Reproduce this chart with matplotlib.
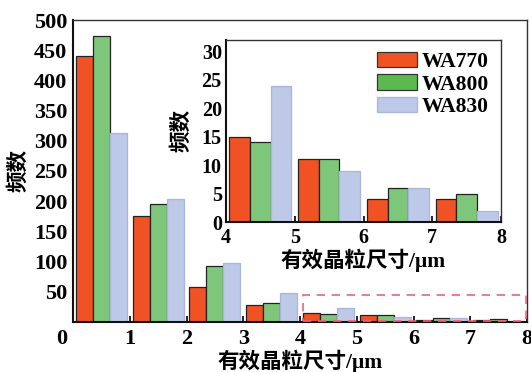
import matplotlib
matplotlib.use("Agg")
import matplotlib.pyplot as plt
from matplotlib.patches import Patch, Rectangle
import numpy as np

# Grain-size bins (μm, lower edge of each 1 μm bin)
bins = [0, 1, 2, 3, 4, 5, 6, 7]
wa770 = [441, 175, 58, 28, 15, 11, 4, 4]
wa800 = [474, 196, 93, 31, 14, 11, 6, 5]
wa830 = [313, 204, 97, 48, 24, 9, 6, 2]
series_names = ["WA770", "WA800", "WA830"]

main_yticks = [50, 100, 150, 200, 250, 300, 350, 400, 450, 500]
main_xticks = [1, 2, 3, 4, 5, 6, 7, 8]
inset_yticks = [0, 5, 10, 15, 20, 25, 30]
inset_xticks = [4, 5, 6, 7, 8]

RED = "#F05224"
GREEN = "#7EC67A"
GREEN_LEG = "#5BB94F"
BLUE = "#BDC9E7"
BLUE_EDGE = "#A8B6DE"

LATIN = "Liberation Serif"
MIXED = ["Liberation Serif", "Noto Sans CJK SC"]

fig = plt.figure(figsize=(5.31, 3.72), dpi=100)


def draw_bars(ax, idx):
    x = np.array([bins[i] for i in idx], dtype=float)
    w = 0.3
    ax.bar(x + 0.2, [wa770[i] for i in idx], width=w, color=RED,
           edgecolor="#222222", linewidth=0.9, zorder=2)
    ax.bar(x + 0.5, [wa800[i] for i in idx], width=w, color=GREEN,
           edgecolor="#222222", linewidth=0.9, zorder=2)
    ax.bar(x + 0.8, [wa830[i] for i in idx], width=w, color=BLUE,
           edgecolor=BLUE_EDGE, linewidth=0.9, zorder=2)


def style_spines(ax):
    for s in ("left", "bottom"):
        ax.spines[s].set_linewidth(1.5)
        ax.spines[s].set_color("#111111")
    for s in ("top", "right"):
        ax.spines[s].set_linewidth(1.0)
        ax.spines[s].set_color("#333333")


def style_ticklabels(ax, size):
    for lab in ax.get_xticklabels() + ax.get_yticklabels():
        lab.set_fontfamily(LATIN)
        lab.set_fontweight("bold")
        lab.set_fontsize(size)


# ---- main histogram ----
ax = fig.add_axes([73 / 531, 1 - 322 / 372, 454 / 531, 302 / 372])
draw_bars(ax, range(len(bins)))
ax.set_xlim(0, 8)
ax.set_ylim(0, 500)
ax.set_xticks(main_xticks)
ax.set_yticks(main_yticks)
ax.tick_params(axis="x", direction="in", length=4, width=1.2, pad=5)
ax.tick_params(axis="y", direction="in", length=0, pad=4)
style_ticklabels(ax, 16)
style_spines(ax)
ax.annotate("0", xy=(0, 0), xycoords="data", xytext=(-8, -12),
            textcoords="offset points", ha="center", va="center",
            fontfamily=LATIN, fontweight="bold", fontsize=16)
ax.set_xlabel("有效晶粒尺寸/μm", family=MIXED, fontweight="bold",
              fontsize=15.5)
ax.xaxis.set_label_coords(0.5, -39 / 302, transform=ax.transAxes)
ax.xaxis.label.set_va("center")
ax.set_ylabel("频数", family=MIXED, fontweight="bold", fontsize=15.5)
ax.yaxis.set_label_coords(-54 / 454, 0.5, transform=ax.transAxes)
ax.yaxis.label.set_va("center")

# dashed frame marking the zoomed region
ax.add_patch(Rectangle((4.05, 1), 3.93, 43, fill=False, edgecolor="#F2607C",
                       linestyle=(0, (5, 4)), linewidth=1.2, zorder=3,
                       clip_on=False))

# ---- inset: 4–8 μm ----
ins = fig.add_axes([226 / 531, 1 - 222 / 372, 275 / 531, 182 / 372])
draw_bars(ins, [4, 5, 6, 7])
ins.set_xlim(4, 8)
ins.set_ylim(0, 32)
ins.set_xticks(inset_xticks)
ins.set_yticks(inset_yticks)
ins.tick_params(axis="x", direction="in", length=4, width=1.2, pad=4)
ins.tick_params(axis="y", direction="in", length=0, pad=3)
style_ticklabels(ins, 14.5)
style_spines(ins)
ins.set_xlabel("有效晶粒尺寸/μm", family=MIXED, fontweight="bold",
               fontsize=15.5)
ins.xaxis.set_label_coords(0.5, -38 / 182, transform=ins.transAxes)
ins.xaxis.label.set_va("center")
ins.set_ylabel("频数", family=MIXED, fontweight="bold", fontsize=15.5)
ins.yaxis.set_label_coords(-44 / 275, 92 / 182, transform=ins.transAxes)
ins.yaxis.label.set_va("center")

handles = [
    Patch(facecolor=RED, edgecolor="#333333", linewidth=0.9),
    Patch(facecolor=GREEN_LEG, edgecolor="#333333", linewidth=0.9),
    Patch(facecolor=BLUE, edgecolor=BLUE_EDGE, linewidth=0.9),
]
ins.legend(handles, series_names, loc="upper right", frameon=False,
           prop={"family": LATIN, "weight": "bold", "size": 15.5},
           handlelength=1.85, handleheight=0.7, handletextpad=0.25,
           labelspacing=0.12, borderaxespad=0.2, borderpad=0.35)

fig.savefig("out.png", dpi=100)
